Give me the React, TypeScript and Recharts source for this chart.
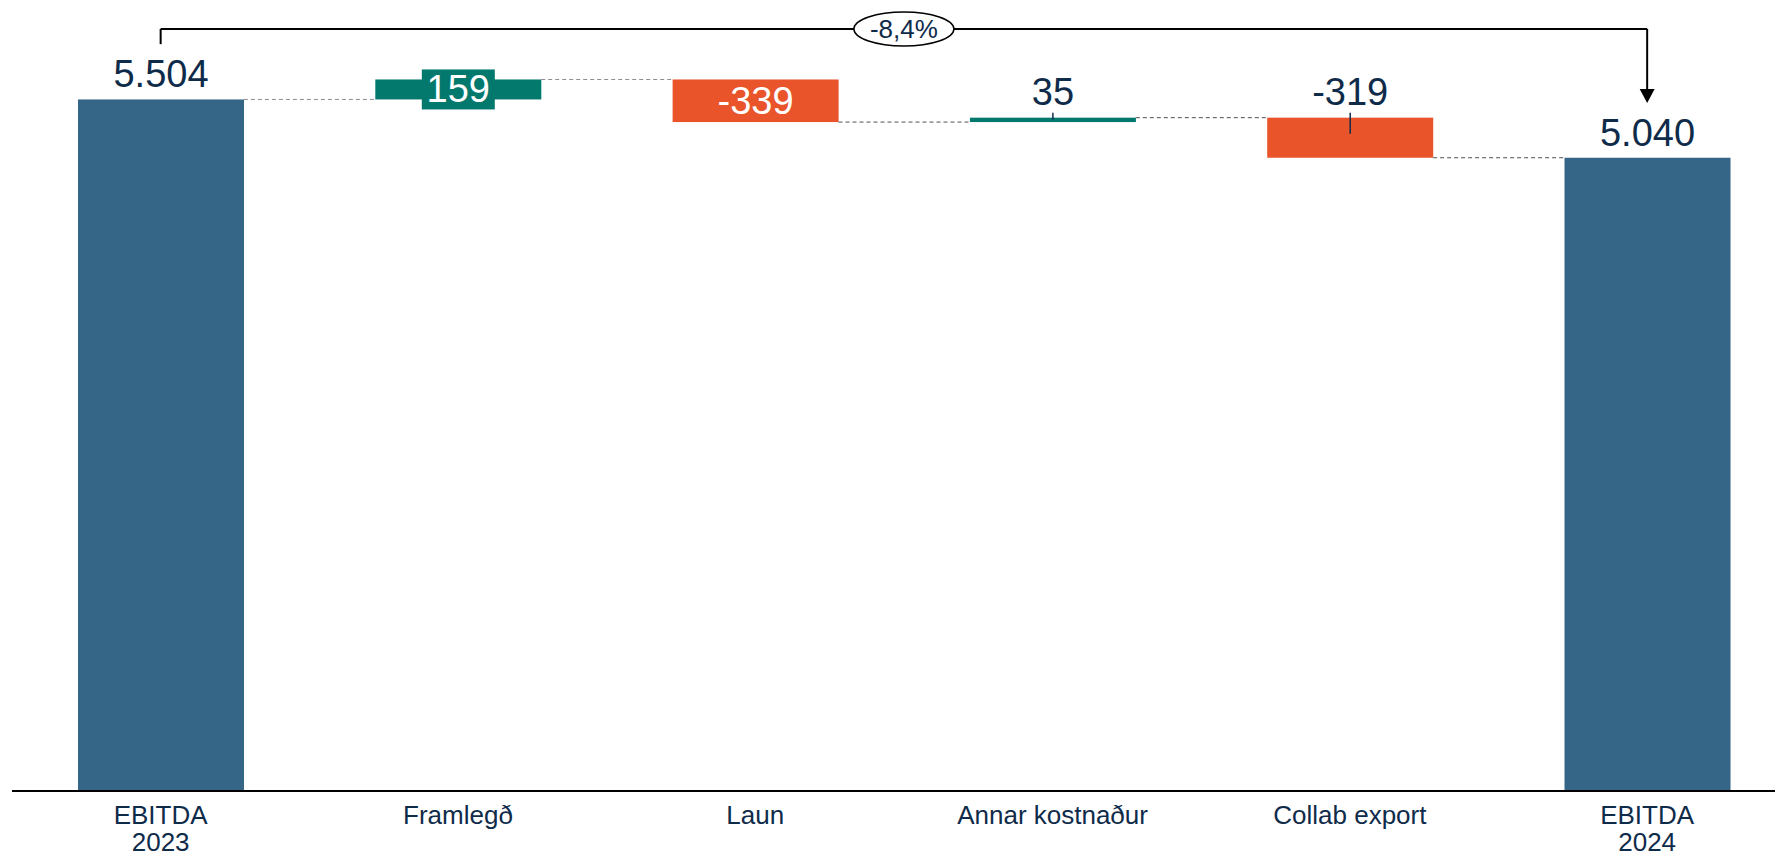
import React from "react"
import {
  BarChart,
  Bar,
  XAxis,
  YAxis,
  Cell,
  ReferenceLine,
  ReferenceDot,
} from "recharts"

// chart values
const categories = ["EBITDA\n2023", "Framlegð", "Laun", "Annar kostnaður", "Collab export", "EBITDA\n2024"]
const amounts = [5504, 159, -339, 35, -319, 5040]
const isTotal = [true, false, false, false, false, true]
const xTicks = [0, 1, 2, 3, 4, 5]

const FONT = "'Liberation Sans', Arial, sans-serif"
const NAVY = "#0F2B4A"
const C_TOTAL = "#356587"
const C_UP = "#03796E"
const C_DOWN = "#E9542A"

// label placement per bar (styling, not data)
const labelKind = ["above", "box", "inside", "leader", "leader", "above"]

const fmtTotal = (v: number) => String(v).replace(/\B(?=(\d{3})+(?!\d))/g, ".")

interface Row {
  idx: number
  base: number
  size: number
  end: number
  label: string
  color: string
}

let running = 0
const rows: Row[] = categories.map((c, i) => {
  const a = amounts[i]
  if (isTotal[i]) {
    running = a
    return { idx: i, base: 0, size: a, end: a, label: fmtTotal(a), color: C_TOTAL }
  }
  const start = running
  running = start + a
  return {
    idx: i,
    base: Math.min(start, running),
    size: Math.abs(a),
    end: running,
    label: String(a),
    color: a >= 0 ? C_UP : C_DOWN,
  }
})

const first = amounts[0]
const last = amounts[amounts.length - 1]
const pct = (((last - first) / first) * 100).toFixed(1).replace(".", ",") + "%"

// bracket annotation level (in value units)
const BRACKET = 6065
const HALF = 0.28 // half bar width in category units

const BarShape = (props: any) => {
  const { x, y, width, height, index, fill } = props
  const kind = labelKind[index]
  const cx = x + width / 2
  const row = rows[index]
  let label: React.ReactNode = null
  if (kind === "above") {
    label = (
      <text x={cx} y={y - 12} textAnchor="middle" fontSize={38} fill={NAVY} fontFamily={FONT}>
        {row.label}
      </text>
    )
  } else if (kind === "box") {
    const cy = y + height / 2
    label = (
      <g>
        <rect x={cx - 36.5} y={cy - 20} width={73} height={40} fill={fill} />
        <text x={cx} y={cy + 13} textAnchor="middle" fontSize={38} fill="#fff" fontFamily={FONT}>
          {row.label}
        </text>
      </g>
    )
  } else if (kind === "inside") {
    const cy = y + height / 2
    label = (
      <text x={cx} y={cy + 13} textAnchor="middle" fontSize={38} fill="#fff" fontFamily={FONT}>
        {row.label}
      </text>
    )
  } else {
    label = (
      <g>
        <line x1={cx} x2={cx} y1={y - 5} y2={y + Math.min(height * 0.4, 16)} stroke={NAVY} strokeWidth={1.5} />
        <text x={cx} y={y - 13} textAnchor="middle" fontSize={38} fill={NAVY} fontFamily={FONT}>
          {row.label}
        </text>
      </g>
    )
  }
  return (
    <g>
      <rect x={x} y={y} width={width} height={height} fill={fill} />
      {label}
    </g>
  )
}

const CatTick = (props: any) => {
  const { x, y, payload } = props
  const lines = (categories[payload.value] || "").split("\n")
  return (
    <text x={x} y={y} textAnchor="middle" fontSize={26} fill={NAVY} fontFamily={FONT}>
      {lines.map((l, i) => (
        <tspan key={i} x={x} dy={i === 0 ? 33 : 27}>
          {l}
        </tspan>
      ))}
    </text>
  )
}

const PctBubble = (props: any) => {
  const { cx, cy } = props
  return (
    <g>
      <ellipse cx={cx} cy={cy} rx={50} ry={17} fill="#fff" stroke="#000" strokeWidth={1.5} />
      <text x={cx} y={cy + 9} textAnchor="middle" fontSize={26} fill={NAVY} fontFamily={FONT}>
        {pct}
      </text>
    </g>
  )
}

const ArrowHead = (props: any) => {
  const { cx, cy } = props
  return <polygon points={`${cx - 7.5},${cy - 14} ${cx + 7.5},${cy - 14} ${cx},${cy}`} fill="#000" />
}

export default function App() {
  return (
    <div style={{ position: "absolute", left: 0, top: 0, width: 1775, height: 858, background: "#fff" }}>
      <BarChart
        width={1775}
        height={858}
        data={rows}
        margin={{ top: 12, right: 0, left: 12, bottom: 0 }}
      >
        <XAxis
          dataKey="idx"
          type="number"
          domain={[-0.5, 5.43]}
          ticks={xTicks}
          interval={0}
          tick={<CatTick />}
          tickLine={false}
          tickSize={0}
          tickMargin={0}
          height={67}
          axisLine={{ stroke: "#000", strokeWidth: 2 }}
        />
        <YAxis hide domain={[0, 6200]} />
        {rows.slice(0, -1).map((r, i) => (
          <ReferenceLine
            key={"c" + i}
            segment={[
              { x: i + HALF, y: r.end },
              { x: i + 1 - HALF, y: r.end },
            ]}
            stroke={i < 2 ? "#8c8c8c" : "#505050"}
            strokeWidth={1}
            strokeDasharray="4 3"
          />
        ))}
        <Bar dataKey="base" stackId="w" fill="transparent" barSize={166} isAnimationActive={false} />
        <Bar dataKey="size" stackId="w" barSize={166} isAnimationActive={false} shape={<BarShape />}>
          {rows.map((r, i) => (
            <Cell key={i} fill={r.color} />
          ))}
        </Bar>
        <ReferenceLine
          segment={[
            { x: 0, y: first + 440 },
            { x: 0, y: BRACKET },
          ]}
          stroke="#000"
          strokeWidth={2}
        />
        <ReferenceLine
          segment={[
            { x: 0, y: BRACKET },
            { x: 5, y: BRACKET },
          ]}
          stroke="#000"
          strokeWidth={2}
        />
        <ReferenceLine
          segment={[
            { x: 5, y: BRACKET },
            { x: 5, y: last + 520 },
          ]}
          stroke="#000"
          strokeWidth={2}
        />
        <ReferenceDot x={5} y={last + 435} shape={<ArrowHead />} />
        <ReferenceDot x={2.5} y={BRACKET} shape={<PctBubble />} />
      </BarChart>
    </div>
  )
}
